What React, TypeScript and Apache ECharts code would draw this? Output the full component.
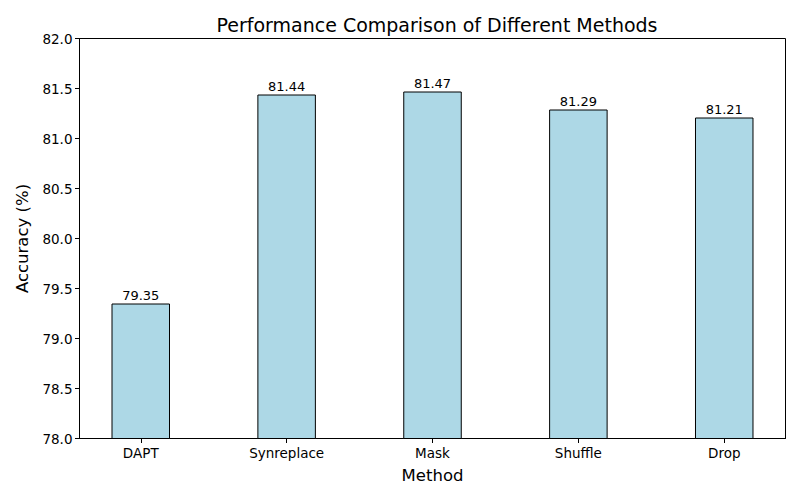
import React, { useEffect, useRef } from "react";
import * as echarts from "echarts";

const categories = ["DAPT", "Synreplace", "Mask", "Shuffle", "Drop"];
const accuracy = [79.35, 81.44, 81.47, 81.29, 81.21];
const yTicks = { min: 78, max: 82, interval: 0.5 };

export default function App() {
  const ref = useRef<HTMLDivElement>(null);
  useEffect(() => {
    if (!ref.current) return;
    const chart = echarts.init(ref.current, null, { renderer: "svg" });
    const font = "DejaVu Sans";
    const positions = categories.map((_, i) => i);
    chart.setOption({
      animation: false,
      textStyle: { fontFamily: font },
      title: {
        text: "Performance Comparison of Different Methods",
        left: 432,
        textAlign: "center",
        top: 10,
        textStyle: { fontFamily: font, fontSize: 19, fontWeight: "normal", color: "#000" },
      },
      grid: {
        left: 79.5,
        right: 14.5,
        top: 38.5,
        bottom: 61.5,
        show: true,
        borderColor: "#000",
        borderWidth: 1,
        backgroundColor: "transparent",
      },
      xAxis: {
        type: "value",
        min: -0.42,
        max: 4.42,
        name: "Method",
        nameLocation: "middle",
        nameGap: 28,
        nameTextStyle: { fontFamily: font, fontSize: 16.5, color: "#000" },
        axisLine: { show: true, onZero: false, lineStyle: { color: "#000", width: 1 } },
        axisTick: { show: true, length: 4.5, customValues: positions, lineStyle: { color: "#000" } },
        axisLabel: {
          customValues: positions,
          formatter: (v: number) => categories[Math.round(v)] ?? "",
          fontFamily: font,
          fontSize: 13.5,
          color: "#000",
          margin: 7,
        },
        splitLine: { show: false },
      },
      yAxis: {
        type: "value",
        min: yTicks.min,
        max: yTicks.max,
        interval: yTicks.interval,
        name: "Accuracy (%)",
        nameLocation: "middle",
        nameGap: 49,
        nameRotate: 90,
        nameTextStyle: { fontFamily: font, fontSize: 16.5, color: "#000" },
        axisLine: { show: true, onZero: false, lineStyle: { color: "#000", width: 1 } },
        axisTick: { show: true, length: 4.5, lineStyle: { color: "#000" } },
        axisLabel: {
          formatter: (v: number) => v.toFixed(1),
          fontFamily: font,
          fontSize: 13.5,
          color: "#000",
          margin: 7,
        },
        splitLine: { show: false },
      },
      series: [
        {
          type: "bar",
          data: accuracy.map((v, i) => [positions[i], v]),
          barWidth: 58.5,
          itemStyle: { color: "#ADD8E6", borderColor: "#000", borderWidth: 1 },
          label: {
            show: true,
            position: "top",
            distance: 2,
            formatter: (p: any) => p.value[1].toFixed(2),
            fontFamily: font,
            fontSize: 13,
            color: "#000",
          },
        },
      ],
    });
    return () => chart.dispose();
  }, []);
  return (
    <div
      ref={ref}
      style={{ position: "fixed", left: 0, top: 0, width: 800, height: 500, background: "#fff" }}
    />
  );
}
